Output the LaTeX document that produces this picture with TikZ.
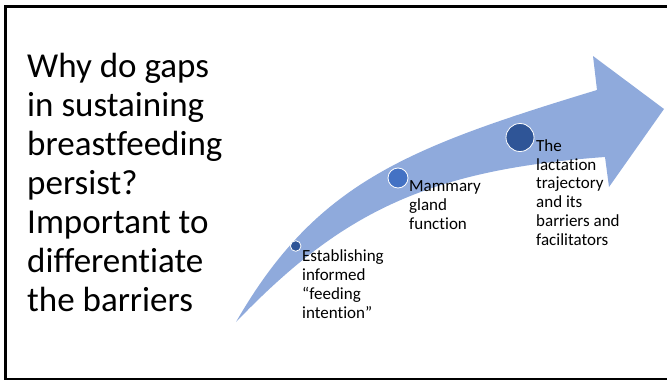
\documentclass[tikz,border=0pt]{standalone}
\usepackage{fontspec}
\setmainfont{Carlito}[Ligatures=NoCommon]

\begin{document}
\begin{tikzpicture}[x=1pt,y=-1pt,
        stageDot/.style={circle,fill=#1,draw=white,line width=0.8pt,inner sep=0pt},
        stageText/.style={anchor=base west,align=left,inner sep=0pt,
            font=\fontsize{17}{18.7}\selectfont}]
            \definecolor{arrowBlue}{HTML}{8FAADC}
            \definecolor{dotDark}{HTML}{2F5597}
            \definecolor{dotMid}{HTML}{4472C4}
            \useasboundingbox (0,0) rectangle (667,380);
            \draw[line width=2.5pt] (667,6.5) -- (5.5,6.5) -- (5.5,379) -- (667,379);
            % base of a multi-line node sits on its last line
            \node[anchor=base west,align=left,inner sep=0pt,font=\fontsize{35}{39}\selectfont]
                (question) at (27,311) {Why do gaps\\in sustaining\\breastfeeding\\persist?\\Important to\\differentiate\\the barriers};
            \fill[arrowBlue] (236,322) .. controls (316,183) and (406,148) .. (597,90)
                -- (593,56) -- (664,109) -- (609,187) -- (605,157)
                .. controls (425,170) and (340,214) .. (236,322) -- cycle;
            \node[stageDot=dotDark,minimum size=10.6pt] (dotIntent) at (295.7,246) {};
            \node[stageDot=dotMid,minimum size=20pt] (dotGland) at (398,178) {};
            \node[stageDot=dotDark,minimum size=28pt] (dotTrajectory) at (520,137.5) {};
            \node[stageText] (intentText) at (302,318) {Establishing\\informed\\“feeding\\intention”};
            \node[stageText] (glandText) at (409,229) {Mammary\\gland\\function};
            \node[stageText] (trajectoryText) at (536,245) {The\\lactation\\trajectory\\and its\\barriers and\\facilitators};
        \end{tikzpicture}
\end{document}
